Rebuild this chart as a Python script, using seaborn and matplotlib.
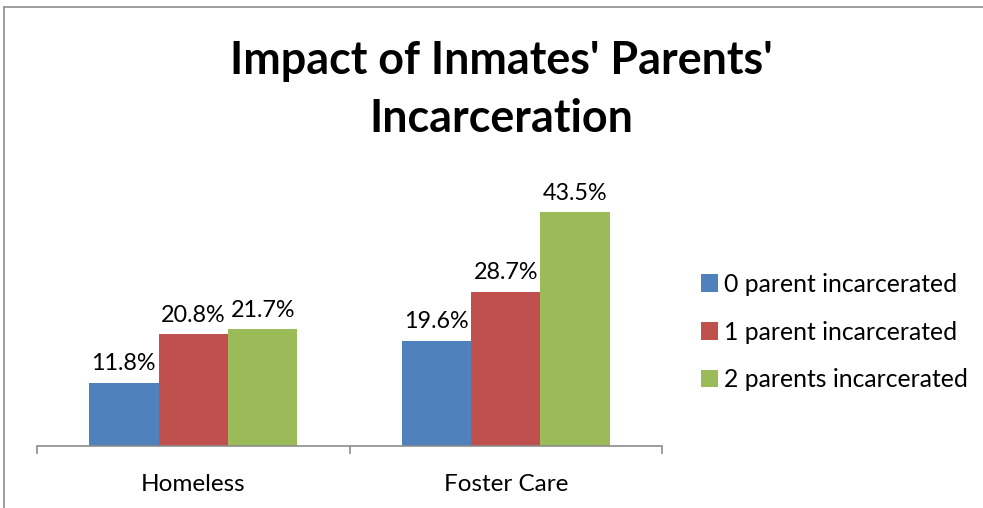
import matplotlib
matplotlib.use("Agg")
import matplotlib.pyplot as plt
from matplotlib.lines import Line2D
import seaborn as sns
import pandas as pd

# Chart data
categories = ["Homeless", "Foster Care"]
series_names = ["0 parent incarcerated", "1 parent incarcerated", "2 parents incarcerated"]
zero_parent = [11.8, 19.6]
one_parent = [20.8, 28.7]
two_parents = [21.7, 43.5]
colors = ["#4F81BD", "#C0504D", "#9BBB59"]

rows = []
for name, vals in zip(series_names, [zero_parent, one_parent, two_parents]):
    for cat, v in zip(categories, vals):
        rows.append({"category": cat, "series": name, "value": v})
df = pd.DataFrame(rows)

sns.set_theme(style="white")
plt.rcParams["font.family"] = ["Lato", "DejaVu Sans"]

W, H = 983, 508
fig = plt.figure(figsize=(W / 100, H / 100), dpi=100)
ax = fig.add_axes([37 / W, (H - 446) / H, (662 - 37) / W, (446 - 177) / H])

sns.barplot(data=df, x="category", y="value", hue="series", order=categories,
            hue_order=series_names, palette=colors, saturation=1, width=0.667,
            gap=0, edgecolor="none", linewidth=0, errorbar=None, ax=ax)

for cont in ax.containers:
    ax.bar_label(cont, fmt="{:.1f}%", padding=6, fontsize=16.8, color="#000000")

ax.set_ylim(0, 50)
ax.set_xlim(-0.5, 1.5)
ax.set_xlabel("")
ax.set_ylabel("")
ax.set_yticks([])
for side in ["top", "right", "left"]:
    ax.spines[side].set_visible(False)
ax.spines["bottom"].set_color("#8C8C8C")
ax.spines["bottom"].set_linewidth(1.2)

# Category labels at the centres, tick marks at the boundaries
ax.set_xticks([0, 1])
ax.set_xticklabels(categories, fontsize=17.5, color="#000000")
ax.tick_params(axis="x", which="major", length=0, pad=20)
ax.set_xticks([-0.5, 0.5, 1.5], minor=True)
ax.tick_params(axis="x", which="minor", bottom=True, direction="out", length=6,
               width=1.2, color="#8C8C8C")

leg = ax.legend(loc="center left", bbox_to_anchor=(701 / W, 1 - 332 / H),
                bbox_transform=fig.transFigure, frameon=False, fontsize=17.8,
                handlelength=0.7, handleheight=0.7, handletextpad=0.25,
                labelspacing=1.0, borderaxespad=0, borderpad=0)
for t in leg.get_texts():
    t.set_color("#000000")

fig.text(501 / W, 1 - 90 / H, "Impact of Inmates' Parents'\nIncarceration",
         ha="center", va="center", fontsize=32.3, fontweight="bold",
         linespacing=1.45, color="#000000")

# Chart area border (left and top edges)
border_kw = dict(transform=fig.transFigure, color="#8C8C8C", linewidth=1.2)
fig.lines.append(Line2D([3.5 / W, 3.5 / W], [0, 1 - 7 / H], **border_kw))
fig.lines.append(Line2D([3.5 / W, 1], [1 - 7 / H, 1 - 7 / H], **border_kw))

fig.savefig("out.png", dpi=100)
